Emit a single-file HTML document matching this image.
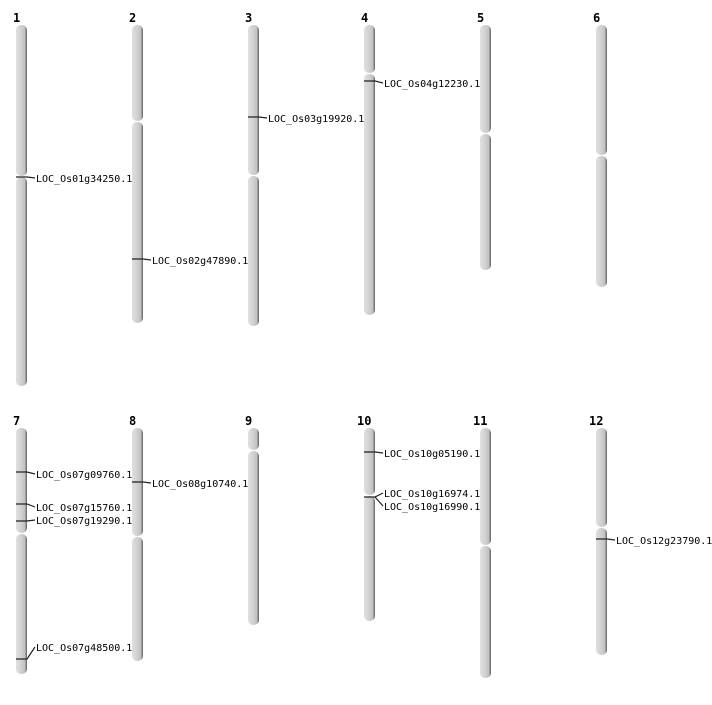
<!DOCTYPE html>
<html><head><meta charset="utf-8"><style>body{margin:0;background:#fff}</style></head><body>
<svg width="712" height="700" xmlns="http://www.w3.org/2000/svg">
<defs>
<linearGradient id="g" x1="0" x2="1" y1="0" y2="0">
<stop offset="0" stop-color="#e0e0e0"/><stop offset="0.5" stop-color="#d0d0d0"/><stop offset="0.8" stop-color="#c0c0c0"/><stop offset="1" stop-color="#5a5a5a"/>
</linearGradient>
</defs>
<g font-family="DejaVu Sans Mono, Liberation Mono, monospace" font-weight="bold" font-size="12" fill="#000">
<text x="13" y="22">1</text><text x="129" y="22">2</text><text x="245" y="22">3</text><text x="361" y="22">4</text><text x="477" y="22">5</text><text x="593" y="22">6</text>
<text x="13" y="425">7</text><text x="129" y="425">8</text><text x="245" y="425">9</text><text x="357" y="425">10</text><text x="473" y="425">11</text><text x="589" y="425">12</text>
</g>
<g fill="url(#g)">
<rect x="16" y="25" width="11" height="151" rx="5"/><rect x="16" y="177" width="11" height="209" rx="5"/>
<rect x="132" y="25" width="11" height="96" rx="5"/><rect x="132" y="122" width="11" height="201" rx="5"/>
<rect x="248" y="25" width="11" height="150" rx="5"/><rect x="248" y="176" width="11" height="150" rx="5"/>
<rect x="364" y="25" width="11" height="48" rx="5"/><rect x="364" y="74" width="11" height="241" rx="5"/>
<rect x="480" y="25" width="11" height="108" rx="5"/><rect x="480" y="134" width="11" height="136" rx="5"/>
<rect x="596" y="25" width="11" height="130" rx="5"/><rect x="596" y="156" width="11" height="131" rx="5"/>
<rect x="16" y="428" width="11" height="105" rx="5"/><rect x="16" y="534" width="11" height="140" rx="5"/>
<rect x="132" y="428" width="11" height="108" rx="5"/><rect x="132" y="537" width="11" height="124" rx="5"/>
<rect x="248" y="428" width="11" height="22" rx="5"/><rect x="248" y="451" width="11" height="174" rx="5"/>
<rect x="364" y="428" width="11" height="67" rx="5"/><rect x="364" y="496" width="11" height="125" rx="5"/>
<rect x="480" y="428" width="11" height="117" rx="5"/><rect x="480" y="546" width="11" height="132" rx="5"/>
<rect x="596" y="428" width="11" height="99" rx="5"/><rect x="596" y="528" width="11" height="127" rx="5"/>
</g>
<g stroke="#222" stroke-width="1.2" fill="none">
<path d="M16 177H27L35 178"/>
<path d="M132 259H143L151 260"/>
<path d="M248 117H259L267 118"/>
<path d="M364 81H375L383 83"/>
<path d="M16 472H27L35 474"/>
<path d="M16 504H27L35 507"/>
<path d="M16 521H27L35 520"/>
<path d="M16 659H27L35 647"/>
<path d="M132 482H143L151 483"/>
<path d="M364 452H375L383 453"/>
<path d="M364 497H375L383 493M375 497L383 506"/>
<path d="M596 539H607L615 540"/>
</g>
<g font-family="DejaVu Sans Mono, Liberation Mono, monospace" font-size="10" fill="#000" dominant-baseline="middle">
<text x="36" y="179">LOC_Os01g34250.1</text>
<text x="152" y="261">LOC_Os02g47890.1</text>
<text x="268" y="119">LOC_Os03g19920.1</text>
<text x="384" y="84">LOC_Os04g12230.1</text>
<text x="36" y="475">LOC_Os07g09760.1</text>
<text x="36" y="508">LOC_Os07g15760.1</text>
<text x="36" y="521">LOC_Os07g19290.1</text>
<text x="36" y="648">LOC_Os07g48500.1</text>
<text x="152" y="484">LOC_Os08g10740.1</text>
<text x="384" y="454">LOC_Os10g05190.1</text>
<text x="384" y="494">LOC_Os10g16974.1</text>
<text x="384" y="507">LOC_Os10g16990.1</text>
<text x="616" y="541">LOC_Os12g23790.1</text>
</g>
</svg>
</body></html>
